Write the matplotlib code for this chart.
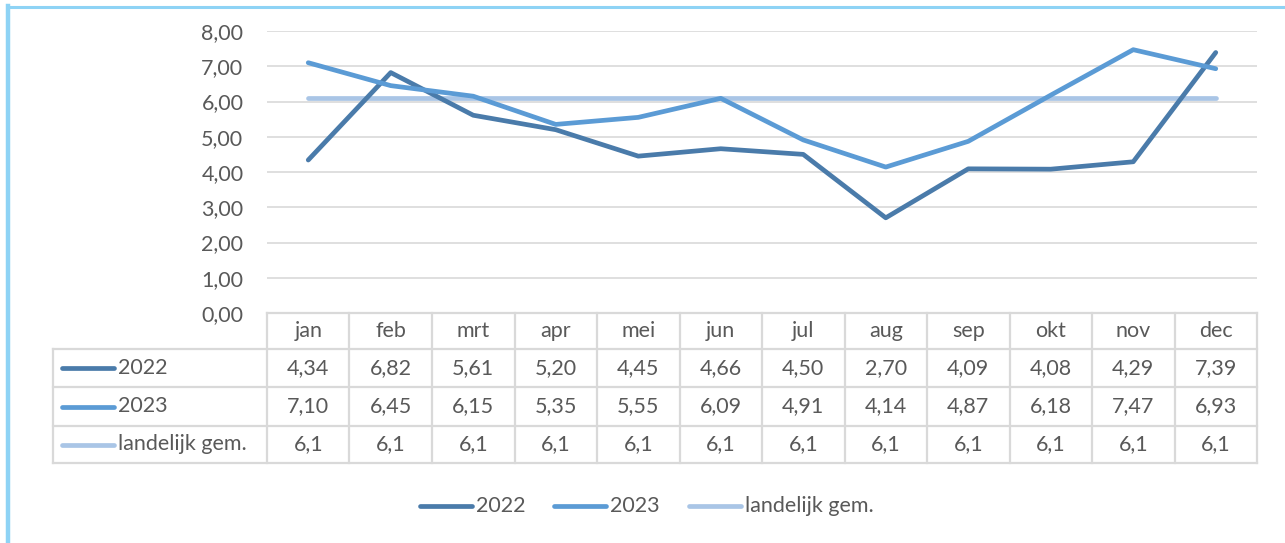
import matplotlib
matplotlib.use("Agg")
import matplotlib.pyplot as plt
from matplotlib.lines import Line2D

months = ["jan", "feb", "mrt", "apr", "mei", "jun", "jul", "aug", "sep", "okt", "nov", "dec"]
series_names = ["2022", "2023", "landelijk gem."]
v2022 = [4.34, 6.82, 5.61, 5.20, 4.45, 4.66, 4.50, 2.70, 4.09, 4.08, 4.29, 7.39]
v2023 = [7.10, 6.45, 6.15, 5.35, 5.55, 6.09, 4.91, 4.14, 4.87, 6.18, 7.47, 6.93]
vland = [6.1] * 12
yticks = [0, 1, 2, 3, 4, 5, 6, 7, 8]

colors = ["#4A7BAA", "#5B9BD5", "#A9C5E6"]
txt_color = "#595959"
grid_color = "#D9D9D9"
FONT = "Lato"
FS = 15.5

W, H = 1285, 543
fig = plt.figure(figsize=(W / 100, H / 100), dpi=100)

def fx(px):
    return px / W

def fy(py):
    return 1 - py / H

# plot area
x0, x1 = 267, 1257
ytop, ybot = 31, 313
ax = fig.add_axes([fx(x0), fy(ybot), fx(x1 - x0), (ybot - ytop) / H])
ax.set_xlim(-0.5, 11.5)
ax.set_ylim(0, 8)
for s in ax.spines.values():
    s.set_visible(False)
ax.set_xticks([])
ax.set_yticks(yticks)
ax.set_yticklabels([f"{t:.2f}".replace(".", ",") for t in yticks],
                   fontsize=FS, color=txt_color, family=FONT)
ax.tick_params(axis="y", length=0, pad=17)
ax.yaxis.grid(True, color=grid_color, lw=1.2)
ax.set_axisbelow(True)
xs = list(range(12))
data = [v2022, v2023, vland]
for vals, c, z in zip(data, colors, [3, 4, 2]):
    ax.plot(xs, vals, color=c, lw=3.4, solid_capstyle="round", solid_joinstyle="round", zorder=z)

# table
tline = dict(color=grid_color, lw=1.6, transform=fig.transFigure)
col_w = (x1 - x0) / 12
rows_y = [313, 349, 387, 426, 463]
tab_left = 53
for i in range(13):
    xp = x0 + i * col_w
    fig.add_artist(Line2D([fx(xp), fx(xp)], [fy(rows_y[0]), fy(rows_y[-1])], **tline))
fig.add_artist(Line2D([fx(tab_left), fx(tab_left)], [fy(rows_y[1]), fy(rows_y[-1])], **tline))
fig.add_artist(Line2D([fx(x0), fx(x1)], [fy(rows_y[0]), fy(rows_y[0])], **tline))
for ry in rows_y[1:]:
    fig.add_artist(Line2D([fx(tab_left), fx(x1)], [fy(ry), fy(ry)], **tline))
for i, m in enumerate(months):
    cx = x0 + (i + 0.5) * col_w
    fig.text(fx(cx), fy((rows_y[0] + rows_y[1]) / 2), m, ha="center", va="center",
             fontsize=FS, color=txt_color, family=FONT)
fmts = ["{:.2f}", "{:.2f}", "{:.1f}"]
for r, (name, vals, c, fmt) in enumerate(zip(series_names, data, colors, fmts)):
    cy = (rows_y[r + 1] + rows_y[r + 2]) / 2
    fig.add_artist(Line2D([fx(62), fx(114)], [fy(cy), fy(cy)], color=c, lw=3.4,
                          solid_capstyle="round", transform=fig.transFigure))
    fig.text(fx(118), fy(cy), name, ha="left", va="center", fontsize=FS,
             color=txt_color, family=FONT)
    for i, v in enumerate(vals):
        cx = x0 + (i + 0.5) * col_w
        fig.text(fx(cx), fy(cy), fmt.format(v).replace(".", ","), ha="center", va="center",
                 fontsize=FS, color=txt_color, family=FONT)

# legend
leg_y = 506
leg_x = [420, 554, 689]
for name, c, lx in zip(series_names, colors, leg_x):
    fig.add_artist(Line2D([fx(lx), fx(lx + 52)], [fy(leg_y), fy(leg_y)], color=c, lw=3.4,
                          solid_capstyle="round", transform=fig.transFigure))
    fig.text(fx(lx + 56), fy(leg_y), name, ha="left", va="center", fontsize=FS,
             color=txt_color, family=FONT)

# frame border (top and left)
bcol = "#8ED3F5"
fig.add_artist(Line2D([fx(8), fx(1285)], [fy(7), fy(7)], color=bcol, lw=2.2, transform=fig.transFigure))
fig.add_artist(Line2D([fx(8), fx(8)], [fy(6), fy(543)], color=bcol, lw=3.2, transform=fig.transFigure))

fig.savefig("out.png", dpi=100)
